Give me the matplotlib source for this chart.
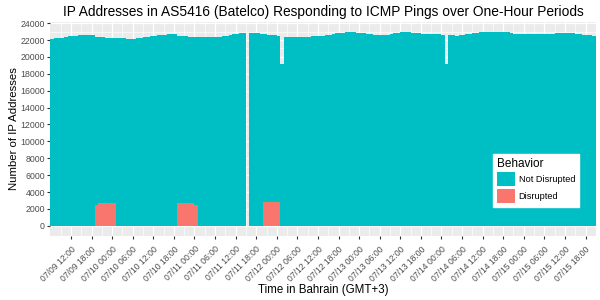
import matplotlib
matplotlib.use("Agg")
import matplotlib.pyplot as plt
import matplotlib.dates as mdates
import numpy as np
import pandas as pd

# hourly bins, 07/09 06:00 to 07/15 20:00 (Bahrain time)
hours = pd.date_range("2016-07-09 06:00", periods=159, freq="h")

# total responding addresses per hour (0 = no data)
total = [
    22150, 22200, 22250, 22300, 22380, 22450, 22500, 22520, 22550, 22560, 22580, 22600, 22560,
    22350, 22330, 22320, 22300, 22280, 22260, 22240, 22220, 22200, 22180, 22170, 22170,
    22200, 22260, 22330, 22400, 22470, 22530, 22580, 22620, 22650, 22670, 22690, 22660,
    22480, 22450, 22430, 22420, 22410, 22400, 22400, 22390, 22380, 22380, 22390, 22400,
    22420, 22470, 22530, 22600, 22670, 22740, 22800, 22850, 0, 22890, 22850, 22800,
    22750, 22700, 22650, 22600, 22560, 22530, 19200, 22340, 22330, 22330, 22340, 22360,
    22380, 22400, 22420, 22430, 22440, 22450, 22500, 22580, 22650, 22720, 22780, 22830,
    22880, 22920, 22930, 22900, 22880, 22850, 22800, 22750, 22700, 22650, 22600, 22540,
    22560, 22620, 22700, 22780, 22850, 22900, 22930, 22900, 22860, 22820, 22790, 22760,
    22740, 22720, 22710, 22700, 22690, 22650, 19170, 22560, 22540, 22530, 22560, 22620,
    22700, 22770, 22830, 22880, 22920, 22950, 22970, 22980, 22990, 23000, 23000, 23000,
    22980, 22780, 22760, 22740, 22720, 22710, 22700, 22700, 22700, 22700, 22710, 22730,
    22750, 22770, 22790, 22800, 22810, 22810, 22800, 22780, 22750, 22700, 22650, 22600,
    22550, 22530,
]

# hours flagged as disrupted and how many addresses fell in them
disrupted_start = ["2016-07-09 19:00", "2016-07-10 19:00", "2016-07-11 20:00"]
disrupted_counts = [
    [2500, 2750, 2750, 2750, 2750, 2750],
    [2750, 2750, 2750, 2750, 2750, 2500],
    [2800, 2800, 2800, 2800, 2800],
]

disrupted = np.zeros(len(hours))
for start, vals in zip(disrupted_start, disrupted_counts):
    i = hours.get_loc(pd.Timestamp(start))
    disrupted[i:i + len(vals)] = vals
not_disrupted = np.array(total) - disrupted

teal = "#00BFC4"
salmon = "#F8766D"
txt = "#4D4D4D"

plt.rcParams["font.family"] = ["Liberation Sans", "DejaVu Sans"]

fig = plt.figure(figsize=(6, 3), dpi=100)
ax = fig.add_axes([0.084, 0.215, 0.909, 0.712])
ax.set_facecolor("#EBEBEB")

w = 1 / 24
x = mdates.date2num(hours)
ax.bar(x, disrupted, width=w, align="edge", color=salmon, linewidth=0, label="Disrupted", zorder=2)
ax.bar(x, not_disrupted, width=w, bottom=disrupted, align="edge", color=teal, linewidth=0,
       label="Not Disrupted", zorder=2)

ax.set_xlim(x[0], x[-1] + w)
ax.set_ylim(-1150, 24150)

ticks = pd.date_range("2016-07-09 12:00", "2016-07-15 18:00", freq="6h")
ax.set_xticks(mdates.date2num(ticks))
ax.set_xticklabels([t.strftime("%m/%d %H:%M") for t in ticks], rotation=45, ha="right",
                   va="top", rotation_mode="anchor", fontsize=6.2, color=txt)
minor = pd.date_range("2016-07-09 09:00", "2016-07-15 21:00", freq="6h")
ax.set_xticks(mdates.date2num(minor), minor=True)
ax.set_yticks(np.arange(0, 24001, 2000))
ax.set_yticks(np.arange(1000, 24000, 2000), minor=True)
ax.tick_params(axis="y", labelsize=6.3, labelcolor=txt, length=2.5, color="#333333", pad=1.5)
ax.tick_params(axis="x", length=2.5, color="#333333", pad=4)
ax.tick_params(which="minor", length=0)

ax.grid(True, which="major", color="white", linewidth=0.9, zorder=1)
ax.grid(True, which="minor", color="white", linewidth=0.45, zorder=1)
ax.set_axisbelow(True)
for s in ax.spines.values():
    s.set_visible(False)

ax.set_title("IP Addresses in AS5416 (Batelco) Responding to ICMP Pings over One-Hour Periods",
             fontsize=9.9, pad=4)
ax.set_ylabel("Number of IP Addresses", fontsize=8.2)
ax.yaxis.set_label_coords(-0.057, 0.5)
ax.set_xlabel("Time in Bahrain (GMT+3)", fontsize=8.3)
ax.xaxis.set_label_coords(0.5, -0.228)

h, l = ax.get_legend_handles_labels()
leg = ax.legend(h[::-1], l[::-1], title="Behavior", loc="lower right",
                bbox_to_anchor=(0.977, 0.112), fontsize=6.6, title_fontsize=8.5,
                frameon=True, fancybox=False, framealpha=1, edgecolor="white",
                handlelength=2.0, handleheight=2.0, borderpad=0.4, labelspacing=0.3,
                handletextpad=0.35)
leg._legend_box.align = "left"

fig.savefig("out.png", dpi=100)
